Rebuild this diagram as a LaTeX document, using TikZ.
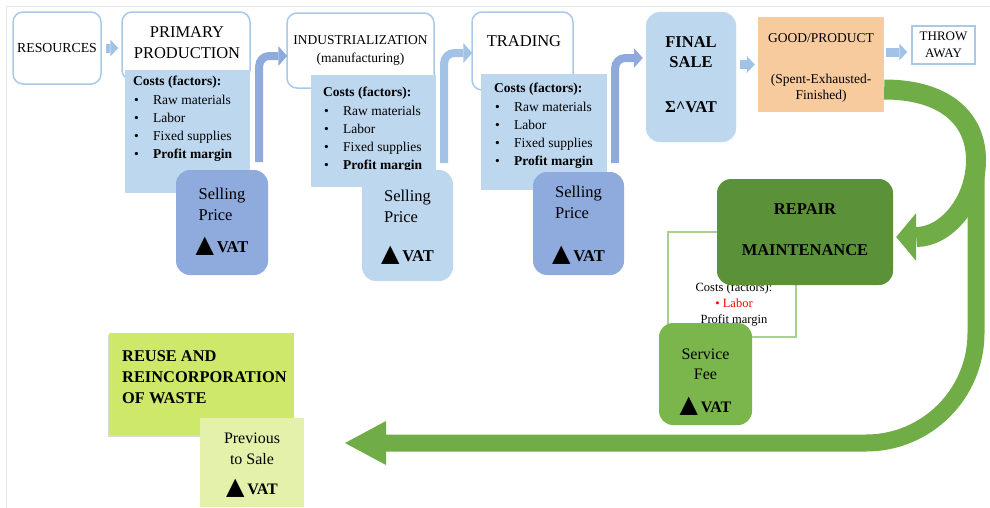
\documentclass[tikz,border=0pt]{standalone}
\usepackage{fontspec}
\setmainfont{Liberation Serif}
\newfontfamily\symfont{DejaVu Sans}
\usetikzlibrary{arrows.meta,positioning,calc,shadows}

\definecolor{bordblue}{HTML}{A9C9EA}
\definecolor{paleblue}{HTML}{BDD7EE}
\definecolor{midblue}{HTML}{8FAADC}
\definecolor{arrblue}{HTML}{A2C2E6}
\definecolor{peach}{HTML}{F8CB9E}
\definecolor{darkgreen}{HTML}{5B9139}
\definecolor{midgreen}{HTML}{7AB64C}
\definecolor{arrgreen}{HTML}{70AD47}
\definecolor{lime}{HTML}{CEE86A}
\definecolor{palelime}{HTML}{E3F1AA}
\definecolor{linegreen}{HTML}{A9D18E}

\newcommand{\vatup}{{\symfont\fontsize{24}{24}\selectfont ▲}\,\textbf{VAT}}
\newcommand{\costitem}[1]{\makebox[20pt][l]{\hspace{1pt}\textbullet}#1}
\newcommand{\costlist}{\textbf{Costs (factors):}\\ \costitem{Raw materials}\\ \costitem{Labor}\\ \costitem{Fixed supplies}\\ \costitem{\textbf{Profit margin}}}
\newcommand{\sellprice}{\begin{tabular}{@{}l@{}}Selling\\Price\end{tabular}}

\begin{document}
\begin{tikzpicture}[x=1pt,y=-1pt]
  %----- styles
  \tikzset{
    stage/.style ={draw=bordblue,line width=1.5pt,fill=white,rounded corners=10pt,inner sep=0,align=center},
    costs/.style ={fill=paleblue,inner sep=0},
    clist/.style ={anchor=north west,inner sep=0,align=left,font=\fontsize{13.5}{18.3}\selectfont},
    price/.style ={rounded corners=14pt,inner sep=0,align=center,font=\fontsize{16.5}{21}\selectfont},
    blk/.style   ={draw=arrblue,line width=9pt,-{Triangle[width=17pt,length=8pt,line width=0pt]}},
    bent/.style  ={line width=8pt,rounded corners=10pt,-{Triangle[width=20pt,length=9pt,line width=0pt]}},
    recyc/.style ={draw=arrgreen,line width=20pt}
  }
  \useasboundingbox (0,0) rectangle (990,507);
  \draw[gray!18,line width=1pt] (6.5,6.5) rectangle (995,515);

  %----- nodes
  % first stage
  \node[stage,minimum width=88pt,minimum height=72pt,font=\fontsize{13.8}{16}\selectfont] (res) at (57,48) {RESOURCES};
  \node[stage,minimum width=128pt,minimum height=68pt] (prim) at (186,46) {};
  \node[font=\fontsize{16.5}{21}\selectfont,align=center] (primT) at (187,42.5) {PRIMARY\\PRODUCTION};
  \node[costs,minimum width=125pt,minimum height=123pt] (cost1) at (187.5,131.5) {};
  \node[clist] (list1) at (133,76) {\costlist};
  \node[price,fill=midblue,minimum width=92pt,minimum height=105pt] (sell1) at (222,222.5) {\sellprice\\[9pt]\vatup\rule[-7pt]{0pt}{7pt}};
  % second stage
  \node[stage,minimum width=147pt,minimum height=75pt,font=\fontsize{13.5}{18}\selectfont] (ind) at (360.5,50.5) {INDUSTRIALIZATION\\(manufacturing)};
  \node[costs,minimum width=125pt,minimum height=112pt] (cost2) at (373.5,131) {};
  \node[clist] (list2) at (323,87) {\costlist};
  \node[price,fill=paleblue,minimum width=91pt,minimum height=111pt] (sell2) at (407.5,225.5) {\sellprice\\[17pt]\vatup};
  % third stage
  \node[stage,minimum width=101pt,minimum height=78pt] (trad) at (522.5,51) {};
  \node[font=\fontsize{16.5}{21}\selectfont] (tradT) at (524,41) {TRADING};
  \node[costs,minimum width=126pt,minimum height=116pt] (cost3) at (544,132) {};
  \node[clist] (list3) at (494,83) {\costlist};
  \node[price,fill=midblue,minimum width=91pt,minimum height=103pt] (sell3) at (578.5,223.5) {\rule{0pt}{16pt}\sellprice\\[21pt]\vatup};
  % end of the chain
  \node[price,fill=paleblue,draw=bordblue!60,minimum width=90pt,minimum height=130pt,font=\bfseries\fontsize{16.5}{20}\selectfont] (final) at (691,77) {FINAL\\SALE\\[25pt]Σ\textasciicircum VAT\rule[-4pt]{0pt}{4pt}};
  \node[fill=peach,minimum width=126pt,minimum height=95pt,inner sep=0,align=center,font=\fontsize{13.5}{16}\selectfont] (good) at (821,64.5) {\rule{0pt}{16pt}GOOD/PRODUCT\\[25pt](Spent-Exhausted-\\Finished)};
  \node[draw=bordblue,line width=1.5pt,fill=white,minimum width=63pt,minimum height=38pt,inner sep=0,align=center,font=\fontsize{13}{17}\selectfont] (throw) at (943.5,45) {THROW\\AWAY};

  % repair
  \node[draw=linegreen,line width=1.2pt,fill=white,minimum width=128pt,minimum height=105pt] (repC) at (732,284.5) {};
  \node[align=center,font=\fontsize{12.5}{16}\selectfont] (repT) at (734,304) {Costs (factors):\\\textcolor{red}{\textbullet\ Labor}\\Profit margin};
  \node[price,fill=darkgreen,minimum width=176pt,minimum height=106pt,font=\bfseries\fontsize{16.5}{20}\selectfont] (repair) at (805,232) {REPAIR\\[21pt]MAINTENANCE\rule[-5pt]{0pt}{5pt}};
  \node[price,fill=midgreen,minimum width=93pt,minimum height=102pt,font=\fontsize{16}{20}\selectfont] (fee) at (705.5,374) {\rule{0pt}{26pt}Service\\Fee\\[13pt]\vatup};

  % reuse
  \node[fill=lime,minimum width=185pt,minimum height=102pt,drop shadow={shadow xshift=-1.5pt,shadow yshift=-2pt,opacity=0.3}] (reuse) at (201.5,384) {};
  \node[anchor=north west,inner sep=0,align=left,font=\bfseries\fontsize{16.4}{21}\selectfont] (reuseT) at (122,350) {REUSE AND\\REINCORPORATION\\OF WASTE};
  \node[fill=palelime,minimum width=104pt,minimum height=89pt,inner sep=0,align=center,font=\fontsize{16}{21}\selectfont] (prev) at (252,462.5) {\rule{0pt}{16pt}Previous\\to Sale\\[9pt]\vatup};

  %----- connections
  \draw[blk,shorten <=4pt,shorten >=3pt] (res.east) -- (res.east -| prim.west);
  \draw[bent,draw=midblue] ($(cost1.south east)+(9,-31)$) |- ($(ind.west)+(1,5.5)$);
  \draw[bent,draw=arrblue] ($(cost2.south east)+(8,-24)$) |- ($(trad.west)+(1,2)$);
  \draw[bent,draw=midblue] ($(cost3.south east)+(8,-27)$) |- ($(final.west)+(-3,-19)$);
  \draw[blk,shorten <=4pt,shorten >=3pt] (final.east |- good.west) -- (good.west);
  \draw[blk,shorten <=2pt,shorten >=4pt] ($(good.east |- throw.west)+(0,7)$) -- ($(throw.west)+(0,7)$);

  %----- green loop
  \coordinate (turn) at (976,160);
  \coordinate (back) at (345,443);
  \draw[recyc,-{Triangle[width=48pt,length=20pt,line width=0pt]}] ($(good.east)+(0,25)$) .. controls +(60,0) and +(0,-42) .. (turn) .. controls +(0,42) and +(50,0) .. ($(repair.east)+(3,5)$);
  \draw[recyc,line width=17pt,rounded corners=110pt,-{Triangle[width=44pt,length=41pt,line width=0pt]}] (turn) |- (back);
\end{tikzpicture}
\end{document}
